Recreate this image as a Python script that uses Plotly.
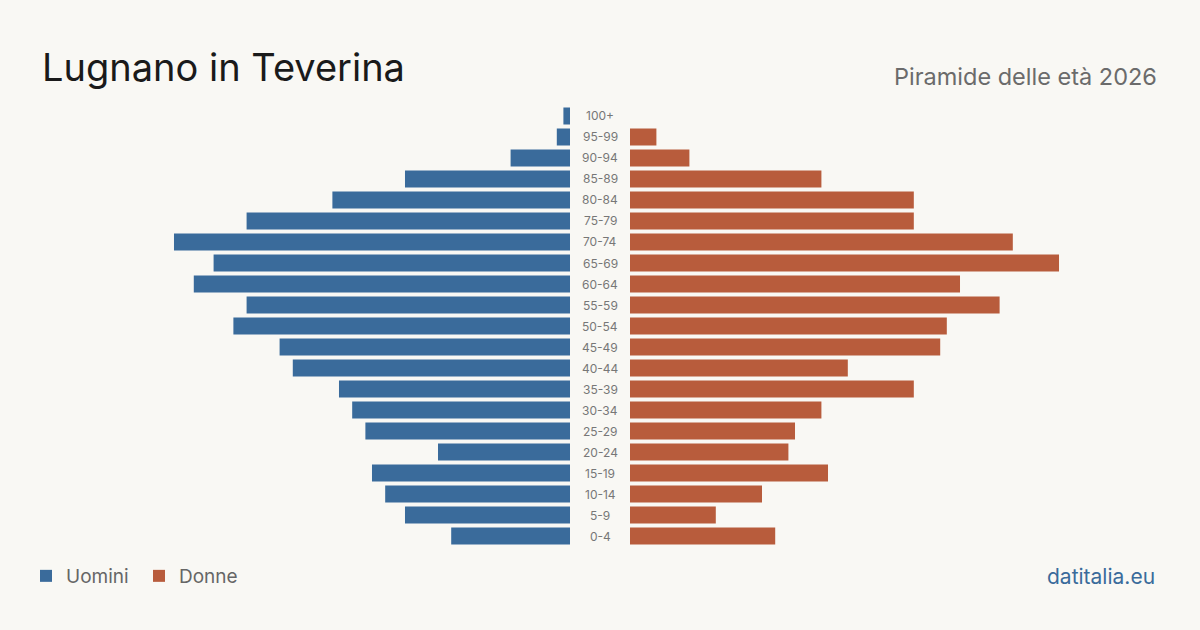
import plotly.graph_objects as go

ages = ["0-4", "5-9", "10-14", "15-19", "20-24", "25-29", "30-34", "35-39", "40-44", "45-49",
        "50-54", "55-59", "60-64", "65-69", "70-74", "75-79", "80-84", "85-89", "90-94", "95-99", "100+"]
uomini = [18, 25, 28, 30, 20, 31, 33, 35, 42, 44, 51, 49, 57, 54, 60, 49, 36, 25, 9, 2, 1]
donne = [22, 13, 20, 30, 24, 25, 29, 43, 33, 47, 48, 56, 50, 65, 58, 43, 43, 29, 9, 4, 0]

BLUE = "#3a6b9b"
ORANGE = "#b85c3c"
BG = "#f9f8f4"
FONT = "Inter"

W, H = 1200, 630
xmax = 80.3

fig = go.Figure()
fig.add_trace(go.Bar(y=ages, x=uomini, orientation="h", name="Uomini", marker_color=BLUE,
                     marker_line_width=0, xaxis="x", yaxis="y", hoverinfo="x+y"))
fig.add_trace(go.Bar(y=ages, x=donne, orientation="h", name="Donne", marker_color=ORANGE,
                     marker_line_width=0, xaxis="x2", yaxis="y", hoverinfo="x+y"))

ydom = [(H - 546.5) / H, (H - 105.5) / H]

fig.update_layout(
    width=W, height=H,
    margin=dict(l=0, r=0, t=0, b=0),
    paper_bgcolor=BG, plot_bgcolor=BG,
    font=dict(family=FONT, color="#666666"),
    bargap=0.19,
    showlegend=True,
    legend=dict(orientation="h", x=26 / W, y=(H - 576) / H, xanchor="left", yanchor="middle",
                font=dict(size=19, color="#666666"), bgcolor="rgba(0,0,0,0)",
                itemwidth=30, entrywidth=68, entrywidthmode="pixels", traceorder="normal"),
    xaxis=dict(domain=[40 / W, 570 / W], range=[xmax, 0], visible=False, fixedrange=True),
    xaxis2=dict(domain=[630 / W, 1160 / W], range=[0, xmax], visible=False, fixedrange=True),
    yaxis=dict(domain=ydom, range=[-0.5, len(ages) - 0.5], visible=False, fixedrange=True),
)

for a in ages:
    fig.add_annotation(x=0.5, xref="paper", y=a, yref="y", text=a, showarrow=False,
                       font=dict(size=12, color="#777777", family=FONT), xanchor="center", yanchor="middle")

fig.add_annotation(x=40 / W, y=(H - 67) / H, xref="paper", yref="paper", text="Lugnano in Teverina",
                   showarrow=False, xanchor="left", yanchor="middle",
                   font=dict(size=38, color="#1a1a1a", family=FONT))
fig.add_annotation(x=1159 / W, y=(H - 76) / H, xref="paper", yref="paper", text="Piramide delle età 2026",
                   showarrow=False, xanchor="right", yanchor="middle",
                   font=dict(size=23.5, color="#6b6b6b", family=FONT))
fig.add_annotation(x=1157 / W, y=(H - 576) / H, xref="paper", yref="paper", text="datitalia.eu",
                   showarrow=False, xanchor="right", yanchor="middle",
                   font=dict(size=21, color=BLUE, family=FONT))

fig.write_html("out.html")
